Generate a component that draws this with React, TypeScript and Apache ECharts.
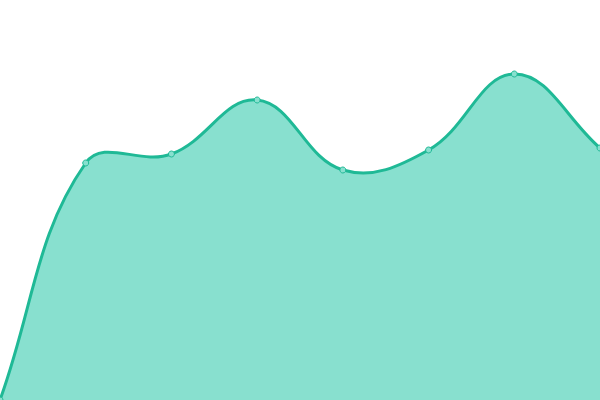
import * as echarts from 'echarts';
import React, { useEffect, useRef } from 'react';

const categories = ['1', '2', '3', '4', '5', '6', '7', '8'];
const values = [0, 237, 246, 300, 230, 250, 326, 252];

const LINE_COLOR = '#1fb996';
const AREA_COLOR = '#88e0cf';
const TENSION = 0.4;

// cardinal spline like Chart.js (tension 0.4), control points capped to the plot area
const buildPath = (pts: number[][], left: number, top: number, right: number, bottom: number) => {
  const cap = (v: number, lo: number, hi: number) => Math.max(lo, Math.min(hi, v));
  const cps = pts.map((p, i) => {
    const prev = pts[i - 1] || p;
    const next = pts[i + 1] || p;
    const d01 = Math.hypot(p[0] - prev[0], p[1] - prev[1]);
    const d12 = Math.hypot(next[0] - p[0], next[1] - p[1]);
    const sum = d01 + d12 || 1;
    const fa = (TENSION * d01) / sum;
    const fb = (TENSION * d12) / sum;
    return {
      prev: [
        cap(p[0] - fa * (next[0] - prev[0]), left, right),
        cap(p[1] - fa * (next[1] - prev[1]), top, bottom),
      ],
      next: [
        cap(p[0] + fb * (next[0] - prev[0]), left, right),
        cap(p[1] + fb * (next[1] - prev[1]), top, bottom),
      ],
    };
  });
  let d = `M${pts[0][0]},${pts[0][1]}`;
  for (let i = 1; i < pts.length; i++) {
    const c1 = cps[i - 1].next;
    const c2 = cps[i].prev;
    d += ` C${c1[0]},${c1[1]} ${c2[0]},${c2[1]} ${pts[i][0]},${pts[i][1]}`;
  }
  return d;
};

const App: React.FC = () => {
  const chartRef = useRef<HTMLDivElement>(null);

  useEffect(() => {
    const myChart = echarts.init(chartRef.current!, null, { renderer: 'svg' });

    const option = {
      animation: false,
      grid: { left: 0, right: 0, top: 0, bottom: 0 },
      xAxis: {
        type: 'category',
        boundaryGap: false,
        data: categories,
        show: false,
      },
      yAxis: {
        type: 'value',
        min: 0,
        max: 400,
        show: false,
      },
      series: [
        {
          type: 'custom',
          z: 2,
          clip: false,
          data: values.map((v, i) => [i, v]),
          renderItem: (params: any, api: any) => {
            if (params.dataIndex !== 0) return null;
            const pts = values.map((v, i) => api.coord([i, v]));
            const cs = params.coordSys;
            const left = cs.x;
            const top = cs.y;
            const right = cs.x + cs.width;
            const bottom = cs.y + cs.height;
            const line = buildPath(pts, left, top, right, bottom);
            const base = api.coord([0, 0])[1];
            const area = `${line} L${pts[pts.length - 1][0]},${base} L${pts[0][0]},${base} Z`;
            return {
              type: 'group',
              children: [
                {
                  type: 'path',
                  shape: { pathData: area },
                  style: { fill: AREA_COLOR, stroke: null },
                },
                {
                  type: 'path',
                  shape: { pathData: line },
                  style: { fill: null, stroke: LINE_COLOR, lineWidth: 3 },
                },
              ],
            };
          },
        },
        {
          type: 'line',
          z: 3,
          data: values,
          symbol: 'circle',
          symbolSize: 6,
          lineStyle: { width: 0, opacity: 0 },
          itemStyle: { color: AREA_COLOR, borderColor: LINE_COLOR, borderWidth: 1 },
        },
      ],
    };

    myChart.setOption(option);

    return () => {
      myChart.dispose();
    };
  }, []);

  return (
    <div
      ref={chartRef}
      style={{ position: 'absolute', left: 0, top: 0, width: '600px', height: '400px' }}
    />
  );
};

export default App;
